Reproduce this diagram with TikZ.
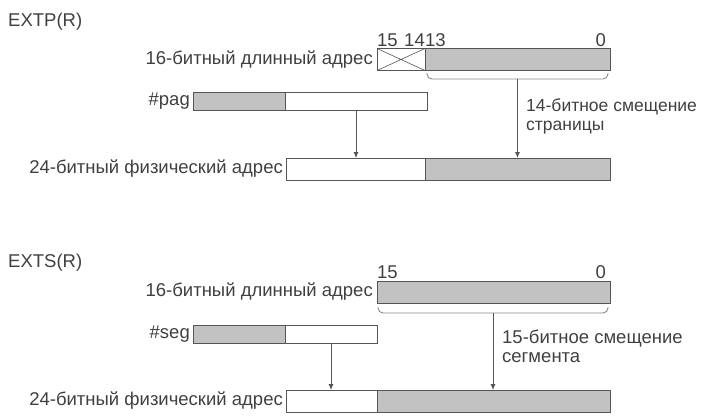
\documentclass[tikz,border=0pt]{standalone}
\usepackage{fontspec}
\setmainfont{Liberation Sans}
\usetikzlibrary{arrows.meta,positioning}
\definecolor{fieldgray}{HTML}{C2C2C2}
\definecolor{linegray}{HTML}{555555}
\definecolor{textgray}{HTML}{404040}

\begin{document}
\begin{tikzpicture}[
    x=1pt, y=-1pt,
    field/.style={rectangle, draw=linegray, line width=0.9pt, minimum height=22pt, inner sep=0pt, outer sep=0pt},
    shaded/.style={field, fill=fieldgray},
    short/.style={minimum height=18pt},
    lbl/.style={text=textgray, font=\fontsize{18.5}{19}\selectfont, inner sep=0pt},
    bitno/.style={lbl, anchor=south, yshift=2pt},
    arrow/.style={-{Latex[length=6pt,width=5pt]}, draw=linegray, line width=0.8pt},
    brace/.style={draw=linegray!70, line width=0.9pt, rounded corners=5pt},
]
\useasboundingbox (0,0) rectangle (701,417);

% --- EXTP(R) ---
\node[lbl, anchor=west] (extp) at (8,22) {EXTP(R)};

\node[field, minimum width=48pt, anchor=west] (pxbits) at (377,59.5) {};
\draw[linegray, line width=0.6pt] (pxbits.north west) -- (pxbits.south east)
    (pxbits.south west) -- (pxbits.north east);
\node[shaded, minimum width=185pt, right=0pt of pxbits] (poff) {};
\node[lbl, left=4pt of pxbits] (plong) {16-битный длинный адрес};
\node[bitno, anchor=south west] (pb15) at (pxbits.north west) {15};
\node[bitno, anchor=south east] (pb14) at (pxbits.north east) {14};
\node[bitno, anchor=south west] (pb13) at (poff.north west) {13};
\node[bitno, anchor=south east, xshift=-4pt] (pb0) at (poff.north east) {0};

\node[shaded, short, minimum width=92pt, anchor=west] (pagg) at (193,101.5) {};
\node[field, short, minimum width=142pt, right=0pt of pagg] (pagw) {};
\node[lbl, left=3pt of pagg] (pag) {\#pag};

\node[field, minimum width=139pt, anchor=west] (pphysw) at (286,169) {};
\node[shaded, minimum width=185pt, right=0pt of pphysw] (pphysg) {};
\node[lbl, left=3pt of pphysw] (pphys) {24-битный физический адрес};

\draw[brace] (427,73) -- (427,79) -- (608,79) -- (608,73);
\coordinate (pbrace) at (517.5,79);
\node[lbl, font=\fontsize{17.5}{19}\selectfont, anchor=north west, align=left] (poffl) at (526,98)
    {14-битное смещение\\страницы};

\draw[arrow] (pagw.south) -- (pagw.south |- pphysw.north);
\draw[arrow] (pbrace) -- (pbrace |- pphysg.north);

% --- EXTS(R) ---
\node[lbl, anchor=west] (exts) at (8,263) {EXTS(R)};

\node[shaded, minimum width=233pt, anchor=west] (soff) at (377,292) {};
\node[lbl, left=4pt of soff] (slong) {16-битный длинный адрес};
\node[bitno, anchor=south west] (sb15) at (soff.north west) {15};
\node[bitno, anchor=south east, xshift=-4pt] (sb0) at (soff.north east) {0};

\node[shaded, short, minimum width=92pt, anchor=west] (segg) at (193,334) {};
\node[field, short, minimum width=92pt, right=0pt of segg] (segw) {};
\node[lbl, left=3pt of segg] (seg) {\#seg};

\node[field, minimum width=91pt, anchor=west] (sphysw) at (286,401) {};
\node[shaded, minimum width=233pt, right=0pt of sphysw] (sphysg) {};
\node[lbl, left=3pt of sphysw] (sphys) {24-битный физический адрес};

\draw[brace] (378,307) -- (378,313) -- (608,313) -- (608,307);
\coordinate (sbrace) at (493,313);
\node[lbl, anchor=north west, align=left] (soffl) at (502,330)
    {15-битное смещение\\сегмента};

\draw[arrow] (segw.south) -- (segw.south |- sphysw.north);
\draw[arrow] (sbrace) -- (sbrace |- sphysg.north);

\end{tikzpicture}
\end{document}
